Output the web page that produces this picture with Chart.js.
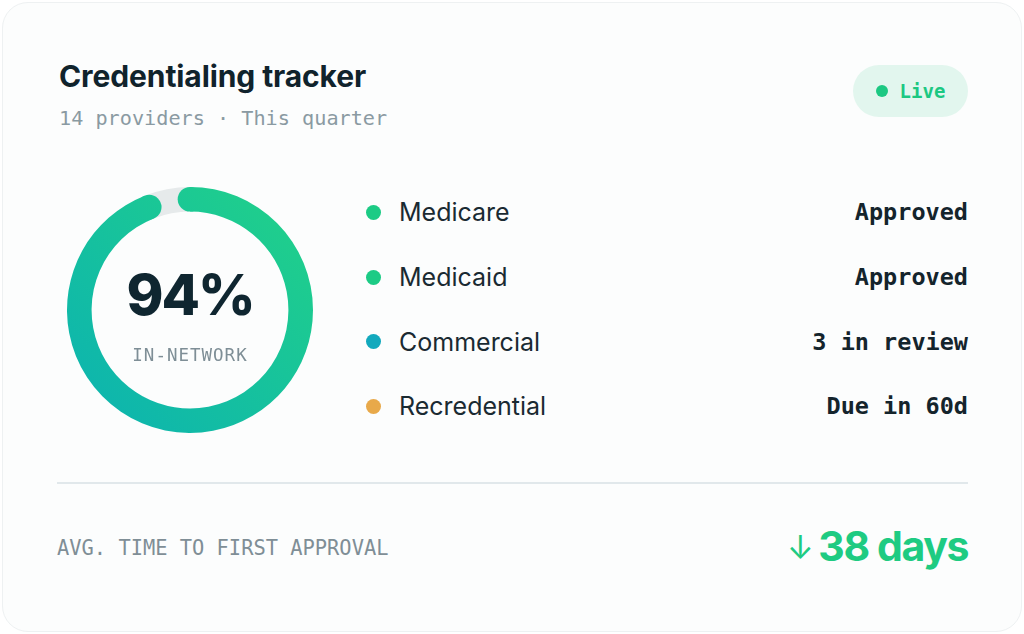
<!DOCTYPE html>
<html>
<head>
<meta charset="utf-8">
<script src="https://cdn.jsdelivr.net/npm/chart.js@4.4.1/dist/chart.umd.min.js"></script>
<style>
  html, body { margin: 0; padding: 0; background: #ffffff; }
  body { width: 1024px; height: 634px; position: relative; overflow: hidden; font-family: Inter, "Noto Sans", sans-serif; }
  .card {
    position: absolute; left: 2px; top: 2px; width: 1018px; height: 628px;
    background: #fcfdfd; border: 1px solid #eef1f2; border-radius: 26px;
  }
  .title { position: absolute; left: 59px; top: 58px; font-size: 30px; font-weight: 700; color: #10232c; letter-spacing: -0.1px; }
  .sub { position: absolute; left: 59px; top: 106px; font-family: "DejaVu Sans Mono", monospace; font-size: 20.2px; color: #8a9aa2; }
  .badge {
    position: absolute; left: 853px; top: 65px; width: 115px; height: 52px; border-radius: 26px;
    background: #e2f6ee; display: flex; align-items: center; justify-content: center;
    font-family: "DejaVu Sans Mono", monospace; font-weight: 700; font-size: 19px; color: #1cc882;
  }
  .badge i { display: inline-block; width: 12px; height: 12px; border-radius: 50%; background: #1cc882; margin-right: 12px; }
  .ring { position: absolute; left: 67px; top: 187px; width: 246px; height: 246px; }
  .center { position: absolute; left: 67px; top: 187px; width: 246px; height: 246px; pointer-events: none; }
  .big { position: absolute; left: 0; width: 100%; top: 74px; text-align: center; font-size: 56px; font-weight: 800; color: #0f2630; letter-spacing: -2px; }
  .small { position: absolute; left: 0; width: 100%; top: 158px; text-align: center; font-family: "DejaVu Sans Mono", monospace; font-size: 17.5px; color: #7e8e96; letter-spacing: 1px; }
  .rows { position: absolute; left: 365px; top: 180px; width: 603px; }
  .row { position: relative; height: 64.7px; display: flex; align-items: center; }
  .row .dot { width: 15px; height: 15px; border-radius: 50%; margin-left: 1px; margin-right: 18px; }
  .row .lab { font-size: 25px; color: #1a2a32; }
  .row .val { position: absolute; right: 0; font-family: "DejaVu Sans Mono", monospace; font-weight: 700; font-size: 23.5px; color: #14242c; }
  .sep { position: absolute; left: 57px; top: 482px; width: 911px; height: 2px; background: #e1e8eb; }
  .foot { position: absolute; left: 57px; top: 536px; font-family: "DejaVu Sans Mono", monospace; font-size: 20.4px; color: #7f8e96; }
  .kpi { position: absolute; right: 56px; top: 521px; font-size: 41px; font-weight: 700; color: #1ecb82; letter-spacing: -1.4px; }
  .kpi span { font-weight: 400; font-size: 32px; margin-right: 6px; position: relative; top: -2px; }
</style>
</head>
<body>
<div class="card"></div>
<div class="title">Credentialing tracker</div>
<div class="sub">14 providers · This quarter</div>
<div class="badge"><i></i>Live</div>

<div class="ring"><canvas id="ring"></canvas></div>
<div class="center">
  <div class="big" id="big"></div>
  <div class="small">IN-NETWORK</div>
</div>

<div class="rows" id="rows"></div>

<div class="sep"></div>
<div class="foot">AVG. TIME TO FIRST APPROVAL</div>
<div class="kpi"><span>↓</span>38 days</div>

<script>
// doughnut: share in network vs the rest
const ringLabels = ['In-network', 'Remaining'];
const ringValues = [94, 6];

// payer list
const payers = ['Medicare', 'Medicaid', 'Commercial', 'Recredential'];
const payerStatus = ['Approved', 'Approved', '3 in review', 'Due in 60d'];
const payerColors = ['#1ccb85', '#1ccb85', '#12a9bd', '#e8a94a'];

document.getElementById('big').textContent = ringValues[0] + '%';

const rows = document.getElementById('rows');
payers.forEach((p, i) => {
  rows.innerHTML += `<div class="row"><span class="dot" style="background:${payerColors[i]}"></span>` +
    `<span class="lab">${p}</span><span class="val">${payerStatus[i]}</span></div>`;
});

function ringGradient(chart) {
  const a = chart.chartArea;
  if (!a) return '#1ccb85';
  const g = chart.ctx.createLinearGradient(a.right, a.top, a.left, a.bottom);
  g.addColorStop(0, '#22d287');
  g.addColorStop(1, '#0bb2b2');
  return g;
}

// round caps at both ends of the value arc
const roundCaps = {
  id: 'roundCaps',
  afterDatasetsDraw(chart) {
    const arc = chart.getDatasetMeta(0).data[0];
    if (!arc) return;
    const p = arc.getProps(['x', 'y', 'startAngle', 'endAngle', 'innerRadius', 'outerRadius'], true);
    const r = (p.outerRadius - p.innerRadius) / 2;
    const mid = p.innerRadius + r;
    const ctx = chart.ctx;
    ctx.save();
    ctx.fillStyle = ringGradient(chart);
    [p.startAngle, p.endAngle].forEach(ang => {
      ctx.beginPath();
      ctx.arc(p.x + Math.cos(ang) * mid, p.y + Math.sin(ang) * mid, r, 0, Math.PI * 2);
      ctx.fill();
    });
    ctx.restore();
  }
};

new Chart(document.getElementById('ring'), {
  type: 'doughnut',
  data: {
    labels: ringLabels,
    datasets: [{
      data: ringValues,
      backgroundColor: ctx => ctx.dataIndex === 0 ? ringGradient(ctx.chart) : '#e6eaeb',
      borderWidth: 0
    }]
  },
  options: {
    responsive: true,
    maintainAspectRatio: false,
    animation: false,
    cutout: '80%',
    layout: { padding: 0 },
    plugins: { legend: { display: false }, tooltip: { enabled: false } }
  },
  plugins: [roundCaps]
});
</script>
</body>
</html>
